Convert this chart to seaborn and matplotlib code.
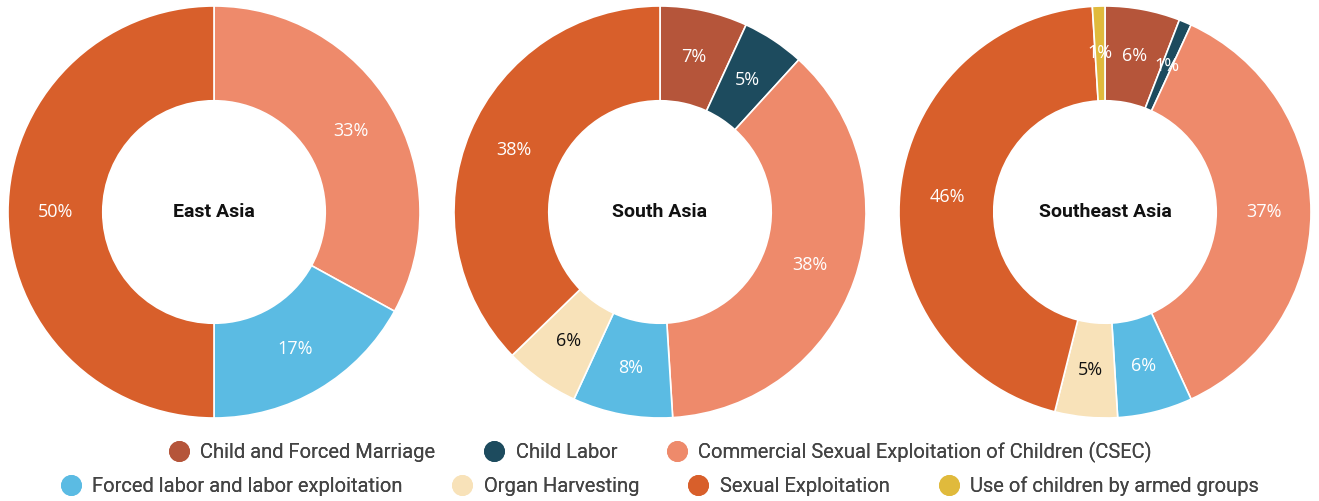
import matplotlib
matplotlib.use("Agg")
import matplotlib.pyplot as plt
from matplotlib.lines import Line2D
import seaborn as sns

# data
categories = ["Child and Forced Marriage", "Child Labor",
              "Commercial Sexual Exploitation of Children (CSEC)",
              "Forced labor and labor exploitation", "Organ Harvesting",
              "Sexual Exploitation", "Use of children by armed groups"]
colors = ["#b5553a", "#1d4b5e", "#ee8a6b", "#5bbbe3", "#f8e2b9", "#d85f2b", "#e0ba3c"]
regions = ["East Asia", "South Asia", "Southeast Asia"]
east_asia = [0, 0, 33, 17, 0, 50, 0]
south_asia = [7, 5, 38, 8, 6, 38, 0]
southeast_asia = [6, 1, 37, 6, 5, 46, 1]
all_values = [east_asia, south_asia, southeast_asia]

sns.set_theme(style="white")
plt.rcParams['font.family'] = ['Roboto', 'DejaVu Sans']

fig = plt.figure(figsize=(13.19, 5.01), dpi=100)
W, H = 1319, 501
centers_x = [214, 660, 1105]
cy = 212
R = 206

for cx, name, vals in zip(centers_x, regions, all_values):
    ax = fig.add_axes([(cx - R) / W, (H - cy - R) / H, 2 * R / W, 2 * R / H])
    keep = [i for i, v in enumerate(vals) if v > 0]
    v = [vals[i] for i in keep]
    c = [colors[i] for i in keep]
    wedges, texts = ax.pie(v, colors=c, startangle=90, counterclock=False,
                           radius=1.0, labels=[f"{x}%" for x in v],
                           labeldistance=0.77,
                           wedgeprops=dict(width=0.46, edgecolor="white", linewidth=1.2))
    for t, i in zip(texts, keep):
        t.set_ha("center")
        t.set_va("center")
        t.set_fontsize(13)
        t.set_family(['Open Sans', 'DejaVu Sans'])
        t.set_color("#111111" if categories[i] == "Organ Harvesting" else "white")
    ax.text(0, 0, name, ha="center", va="center", fontsize=14, fontweight="bold", color="#111111")
    ax.set_xlim(-1, 1)
    ax.set_ylim(-1, 1)
    ax.set_aspect("equal")
    ax.axis("off")

def handle(col):
    return Line2D([], [], marker="o", linestyle="none", markersize=14,
                  markerfacecolor=col, markeredgecolor=col)

rows = [[0, 1, 2], [3, 4, 5, 6]]
ys = [1 - 452 / H, 1 - 486 / H]
for row, y in zip(rows, ys):
    leg = fig.legend([handle(colors[i]) for i in row], [categories[i] for i in row],
                     loc="center", bbox_to_anchor=(0.5, y), ncol=len(row), frameon=False,
                     fontsize=14.5, handletextpad=0.5, columnspacing=2.4, handlelength=1.1,
                     borderpad=0.1)
    for t in leg.get_texts():
        t.set_color("#444444")
    fig.add_artist(leg)

fig.savefig("out.png", dpi=100)
